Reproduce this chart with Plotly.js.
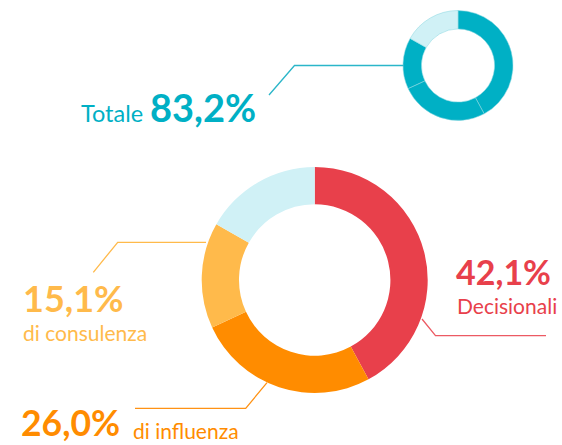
<!DOCTYPE html>
<html>
<head>
<meta charset="utf-8">
<script src="https://cdn.plot.ly/plotly-3.0.1.min.js"></script>
<style>html,body{margin:0;padding:0;background:#fff;}#chart{width:562px;height:445px;}</style>
</head>
<body>
<div id="chart"></div>
<script>
// Data
const categories = ["Decisionali", "di influenza", "di consulenza", "Altro"];
const values = [42.1, 26.0, 15.1, 16.8];
const totalLabel = "Totale";
const totalValue = "83,2%";
const valueLabels = ["42,1%", "26,0%", "15,1%"];
const catLabels = ["Decisionali", "di influenza", "di consulenza"];

const W = 562, H = 445;
const px = x => x / W;
const py = y => 1 - y / H;

const teal = "#00B0C5", light = "#D0F1F6";
const red = "#E8404B", orange = "#FF8C00", yellow = "#FFBA4B";

const small = {
  type: "pie", values: values, labels: categories, sort: false, direction: "clockwise",
  rotation: 0, hole: 0.665, textinfo: "none", hoverinfo: "none", showlegend: false,
  marker: { colors: [teal, teal, teal, light], line: { color: "rgba(140,215,225,0.9)", width: 0.6 } },
  domain: { x: [px(403), px(513)], y: [py(120.5), py(10.5)] }
};
const big = {
  type: "pie", values: values, labels: categories, sort: false, direction: "clockwise",
  rotation: 0, hole: 0.67, textinfo: "none", hoverinfo: "none", showlegend: false,
  marker: { colors: [red, orange, yellow, light], line: { width: 0 } },
  domain: { x: [px(201.7), px(427.7)], y: [py(393), py(167)] }
};

function line(pts, color) {
  let d = "M " + pts.map(p => px(p[0]) + "," + py(p[1])).join(" L ");
  return { type: "path", xref: "paper", yref: "paper", path: d, line: { color: color, width: 1.3 } };
}
const shapes = [
  line([[269, 95], [294.5, 65.5], [404, 65.5]], "#2BB6C9"),
  line([[422, 319], [435.5, 335.7], [546, 335.7]], "#EC5A63"),
  line([[93.3, 272.3], [117.7, 242.3], [206, 242.3]], "#FFBA4B"),
  line([[135, 408.3], [245.7, 408.3], [267, 382.7]], "#FF9214")
];

const LATO = "Lato, 'Open Sans', sans-serif";
function txt(text, x, baseline, size, color, bold) {
  return {
    xref: "paper", yref: "paper", x: px(x), y: py(baseline + 0.213 * size),
    xanchor: "left", yanchor: "bottom", showarrow: false, borderpad: 0,
    text: bold ? "<b>" + text + "</b>" : text,
    font: { family: LATO, size: size, color: color }
  };
}
const annotations = [
  txt(totalLabel, 79.5, 122.7, 23.5, teal, false),
  txt(totalValue, 148.5, 122.7, 38, teal, true),
  txt(valueLabels[0], 454.5, 285.7, 34, red, true),
  txt(catLabels[0], 455.5, 315, 21, red, false),
  txt(valueLabels[2], 21.5, 313.3, 36, yellow, true),
  txt(catLabels[2], 21.5, 341.7, 21, yellow, false),
  txt(valueLabels[1], 20, 437.4, 35.5, orange, true),
  txt(catLabels[1], 132, 439.2, 21, orange, false)
];

Plotly.newPlot("chart", [big, small], {
  width: W, height: H, margin: { l: 0, r: 0, t: 0, b: 0 },
  paper_bgcolor: "#fff", plot_bgcolor: "#fff",
  shapes: shapes, annotations: annotations, showlegend: false
}, { displayModeBar: false, staticPlot: true });
</script>
</body>
</html>
